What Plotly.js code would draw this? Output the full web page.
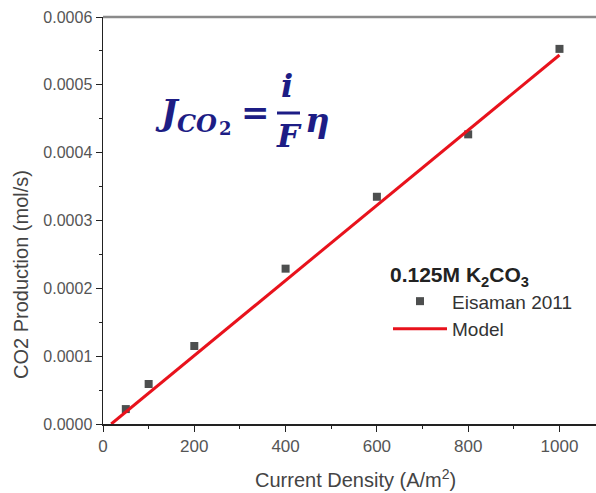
<!DOCTYPE html>
<html><head><meta charset="utf-8">
<script src="https://cdn.plot.ly/plotly-3.0.1.min.js"></script>
<style>html,body{margin:0;padding:0;background:#fff}#chart{width:596px;height:493px}</style>
</head><body><div id="chart"></div>
<script>
const expX = [50, 100, 200, 400, 600, 800, 1000];
const expY = [0.000022, 0.000059, 0.000115, 0.000229, 0.000335, 0.000427, 0.000553];
const modelX = [18, 200, 400, 600, 800, 1000];
const modelY = [0.0, 0.000101, 0.000212, 0.000323, 0.000434, 0.000544];
const seriesNames = ['Eisaman 2011', 'Model'];

const traces = [
  {x: expX, y: expY, mode: 'markers', type: 'scatter', name: seriesNames[0],
   marker: {symbol: 'square', size: 8, color: '#4d4f4f'}},
  {x: modelX, y: modelY, mode: 'lines', type: 'scatter', name: seriesNames[1],
   line: {color: '#e8121c', width: 3}}
];
const M = {l: 103, r: 0, t: 17, b: 69};
const W = 596, H = 493;
const px = x => (x - M.l) / (W - M.l - M.r);
const py = y => (H - M.b - y) / (H - M.t - M.b);
const navy = '#1d1d85';
const fm = '"DejaVu Serif", serif';
const sans = '"Liberation Sans", Arial, sans-serif';
function eq(text, x, y, size) {
  return {xref: 'paper', yref: 'paper', x: px(x), y: py(y), xanchor: 'center', yanchor: 'middle',
    showarrow: false, text: text, font: {family: fm, size: size, color: navy}};
}
const layout = {
  width: W, height: H,
  margin: M,
  paper_bgcolor: '#fff', plot_bgcolor: '#fff',
  showlegend: true,
  legend: {x: px(388), y: py(255), xanchor: 'left', yanchor: 'top', bgcolor: 'rgba(0,0,0,0)',
    font: {family: sans, size: 19, color: '#333'},
    title: {text: '<b>0.125M K<sub>2</sub>CO<sub>3</sub></b>', side: 'top',
      font: {family: sans, size: 21, color: '#222'}},
    tracegroupgap: 0, itemwidth: 54},
  xaxis: {range: [0, 1080], showgrid: false, zeroline: false, showline: true, linecolor: '#222', linewidth: 1.5,
    ticks: 'outside', ticklen: 6, tickcolor: '#222', dtick: 200, tick0: 0,
    minor: {ticks: 'outside', ticklen: 3, dtick: 100, tickcolor: '#222'},
    tickfont: {family: sans, size: 17, color: '#555'}},
  yaxis: {range: [0, 0.0006], showgrid: false, zeroline: false, showline: true, linecolor: '#222', linewidth: 1.5,
    ticks: 'outside', ticklen: 6, tickcolor: '#222', dtick: 0.0001, tickformat: '.4f',
    minor: {ticks: 'outside', ticklen: 3, dtick: 0.00005, tickcolor: '#222'},
    tickfont: {family: sans, size: 16, color: '#555'}},
  shapes: [
    {type: 'line', xref: 'paper', yref: 'paper', x0: 0, x1: 1, y0: 1, y1: 1, line: {color: '#8a8a8a', width: 2.5}},
    {type: 'line', xref: 'paper', yref: 'paper', x0: px(277), x1: px(300), y0: py(113), y1: py(113), line: {color: navy, width: 3}}
  ],
  annotations: [
    {xref: 'paper', yref: 'paper', x: px(355), y: py(478), xanchor: 'center', yanchor: 'middle', showarrow: false,
     text: 'Current Density (A/m<sup>2</sup>)', font: {family: sans, size: 20, color: '#444'}},
    {xref: 'paper', yref: 'paper', x: px(21), y: py(275), xanchor: 'center', yanchor: 'middle', showarrow: false,
     textangle: -90, text: 'CO2 Production (mol/s)', font: {family: sans, size: 20, color: '#444'}},
    eq('<b><i>J</i></b>', 167, 113, 35),
    eq('<b><i>CO</i></b>', 197, 123, 24),
    eq('<b>2</b>', 225, 129, 18),
    eq('<b>=</b>', 255, 112, 34),
    eq('<b><i>i</i></b>', 287, 86, 32),
    eq('<b><i>F</i></b>', 289, 136, 32),
    eq('<b><i>η</i></b>', 317, 120, 34)
  ]
};
Plotly.newPlot('chart', traces, layout, {displayModeBar: false, staticPlot: true});
</script></body></html>
